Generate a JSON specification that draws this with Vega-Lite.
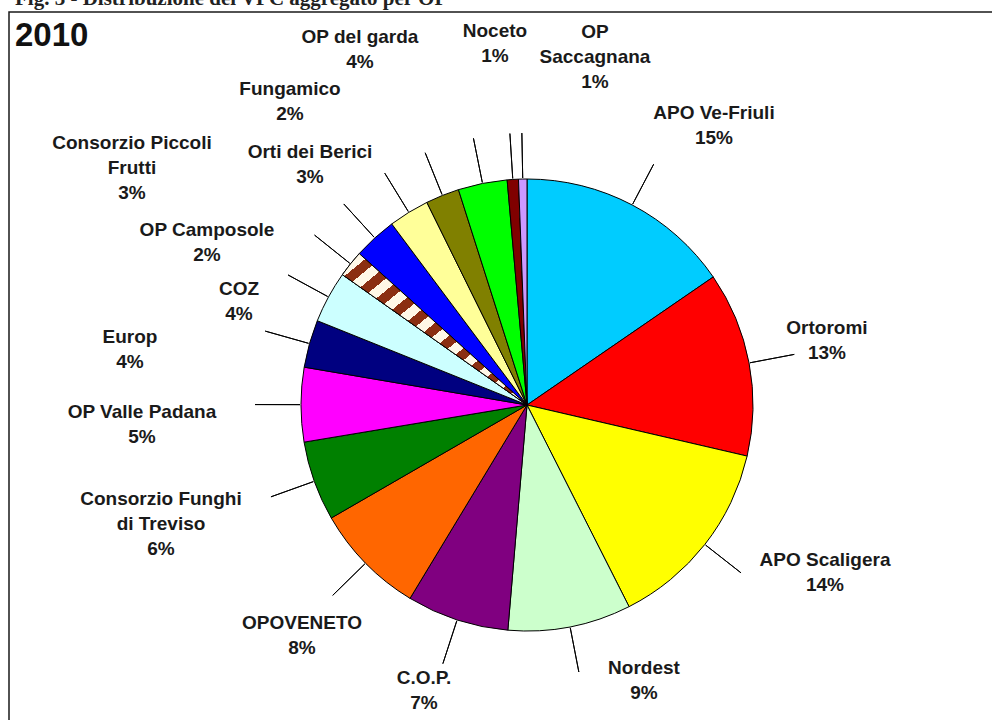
{
  "$schema": "https://vega.github.io/schema/vega-lite/v6.json",
  "width": 1036,
  "height": 786,
  "autosize": {"type": "none"},
  "padding": {"left": 9, "top": 12, "right": -53, "bottom": -78},
  "background": "white",
  "title": {
    "text": "Fig. 3 - Distribuzione del VPC aggregato per OP",
    "subtitle": "2010",
    "anchor": "start",
    "frame": "group",
    "orient": "top",
    "offset": -42,
    "dx": 6,
    "font": "Liberation Serif",
    "fontSize": 21,
    "fontWeight": "bold",
    "color": "#222222",
    "subtitleFont": "Liberation Sans",
    "subtitleFontSize": 33,
    "subtitleFontWeight": "bold",
    "subtitleColor": "#111111",
    "subtitlePadding": 11
  },
  "config": {
    "view": {"stroke": null},
    "text": {"font": "Liberation Sans", "fontSize": 19, "fontWeight": "bold", "lineHeight": 25, "lineBreak": "\n", "align": "center", "baseline": "middle", "color": "#1a1a1a"}
  },
  "data": {
    "values": [
      {"name": "APO Ve-Friuli", "value": 15.4, "order": 1, "label": "APO Ve-Friuli\n15%"},
      {"name": "Ortoromi", "value": 13.2, "order": 2, "label": "Ortoromi\n13%"},
      {"name": "APO Scaligera", "value": 13.9, "order": 3, "label": "APO Scaligera\n14%"},
      {"name": "Nordest", "value": 8.8, "order": 4, "label": "Nordest\n9%"},
      {"name": "C.O.P.", "value": 7.3, "order": 5, "label": "C.O.P.\n7%"},
      {"name": "OPOVENETO", "value": 8.0, "order": 6, "label": "OPOVENETO\n8%"},
      {"name": "Consorzio Funghi di Treviso", "value": 5.7, "order": 7, "label": "Consorzio Funghi\ndi Treviso\n6%"},
      {"name": "OP Valle Padana", "value": 5.3, "order": 8, "label": "OP Valle Padana\n5%"},
      {"name": "Europ", "value": 3.4, "order": 9, "label": "Europ\n4%"},
      {"name": "COZ", "value": 3.7, "order": 10, "label": "COZ\n4%"},
      {"name": "OP Camposole", "value": 1.9, "order": 11, "label": "OP Camposole\n2%"},
      {"name": "Consorzio Piccoli Frutti", "value": 3.1, "order": 12, "label": "Consorzio Piccoli\nFrutti\n3%"},
      {"name": "Orti dei Berici", "value": 2.9, "order": 13, "label": "Orti dei Berici\n3%"},
      {"name": "Fungamico", "value": 2.4, "order": 14, "label": "Fungamico\n2%"},
      {"name": "OP del garda", "value": 3.5, "order": 15, "label": "OP del garda\n4%"},
      {"name": "Noceto", "value": 0.8, "order": 16, "label": "Noceto\n1%"},
      {"name": "OP Saccagnana", "value": 0.6, "order": 17, "label": "OP\nSaccagnana\n1%"}
    ]
  },
  "layer": [
    {
      "data": {"values": [{}]},
      "mark": {"type": "rect", "fill": "transparent", "stroke": "#1a1a1a", "strokeWidth": 1.5},
      "encoding": {}
    },
    {
      "encoding": {
        "theta": {"field": "value", "type": "quantitative", "stack": true},
        "order": {"field": "order", "type": "quantitative"}
      },
      "layer": [
        {
          "mark": {"type": "arc", "radius": 226, "stroke": "#000000", "strokeWidth": 1},
          "encoding": {
            "color": {
              "field": "name", "type": "nominal", "legend": null,
              "scale": {
                "domain": ["APO Ve-Friuli", "Ortoromi", "APO Scaligera", "Nordest", "C.O.P.", "OPOVENETO", "Consorzio Funghi di Treviso", "OP Valle Padana", "Europ", "COZ", "OP Camposole", "Consorzio Piccoli Frutti", "Orti dei Berici", "Fungamico", "OP del garda", "Noceto", "OP Saccagnana"],
                "range": ["#00CCFF", "#FF0000", "#FFFF00", "#CCFFCC", "#800080", "#FF6600", "#008000", "#FF00FF", "#000080", "#CCFFFF", "#B06A4A", "#0000FF", "#FFFF99", "#808000", "#00FF00", "#800000", "#CC99FF"]
              }
            }
          }
        },
        {
          "mark": {
            "type": "arc", "radius": 226, "stroke": "#000000", "strokeWidth": 1,
            "fill": {
              "gradient": "linear", "x1": 1, "y1": 1, "x2": 0, "y2": 0,
              "stops": [
                {"offset": 0, "color": "#8B2F12"}, {"offset": 0.04, "color": "#8B2F12"}, {"offset": 0.04, "color": "#FFF8E7"}, {"offset": 0.08, "color": "#FFF8E7"},
                {"offset": 0.08, "color": "#8B2F12"}, {"offset": 0.12, "color": "#8B2F12"}, {"offset": 0.12, "color": "#FFF8E7"}, {"offset": 0.16, "color": "#FFF8E7"},
                {"offset": 0.16, "color": "#8B2F12"}, {"offset": 0.2, "color": "#8B2F12"}, {"offset": 0.2, "color": "#FFF8E7"}, {"offset": 0.24, "color": "#FFF8E7"},
                {"offset": 0.24, "color": "#8B2F12"}, {"offset": 0.28, "color": "#8B2F12"}, {"offset": 0.28, "color": "#FFF8E7"}, {"offset": 0.32, "color": "#FFF8E7"},
                {"offset": 0.32, "color": "#8B2F12"}, {"offset": 0.36, "color": "#8B2F12"}, {"offset": 0.36, "color": "#FFF8E7"}, {"offset": 0.4, "color": "#FFF8E7"},
                {"offset": 0.4, "color": "#8B2F12"}, {"offset": 0.44, "color": "#8B2F12"}, {"offset": 0.44, "color": "#FFF8E7"}, {"offset": 0.48, "color": "#FFF8E7"},
                {"offset": 0.48, "color": "#8B2F12"}, {"offset": 0.52, "color": "#8B2F12"}, {"offset": 0.52, "color": "#FFF8E7"}, {"offset": 0.56, "color": "#FFF8E7"},
                {"offset": 0.56, "color": "#8B2F12"}, {"offset": 0.6, "color": "#8B2F12"}, {"offset": 0.6, "color": "#FFF8E7"}, {"offset": 0.64, "color": "#FFF8E7"},
                {"offset": 0.64, "color": "#8B2F12"}, {"offset": 0.68, "color": "#8B2F12"}, {"offset": 0.68, "color": "#FFF8E7"}, {"offset": 0.72, "color": "#FFF8E7"},
                {"offset": 0.72, "color": "#8B2F12"}, {"offset": 0.76, "color": "#8B2F12"}, {"offset": 0.76, "color": "#FFF8E7"}, {"offset": 0.8, "color": "#FFF8E7"},
                {"offset": 0.8, "color": "#8B2F12"}, {"offset": 0.84, "color": "#8B2F12"}, {"offset": 0.84, "color": "#FFF8E7"}, {"offset": 0.88, "color": "#FFF8E7"},
                {"offset": 0.88, "color": "#8B2F12"}, {"offset": 0.92, "color": "#8B2F12"}, {"offset": 0.92, "color": "#FFF8E7"}, {"offset": 0.96, "color": "#FFF8E7"},
                {"offset": 0.96, "color": "#8B2F12"}, {"offset": 1, "color": "#8B2F12"}
              ]
            }
          },
          "encoding": {
            "opacity": {"condition": {"test": "datum.name === 'OP Camposole'", "value": 1}, "value": 0}
          }
        },
        {
          "mark": {"type": "arc", "radius": 272, "radius2": 227, "padAngle": 1.6, "fillOpacity": 0, "stroke": "#000000", "strokeWidth": 1}
        },
        {"mark": {"type": "text", "clip": true, "radius": 346.7, "thetaOffset": 0.0853}, "encoding": {"text": {"condition": {"test": "datum.name === 'APO Ve-Friuli'", "field": "label", "type": "nominal"}, "value": ""}}},
        {"mark": {"type": "text", "clip": true, "radius": 309.7, "thetaOffset": -0.0641}, "encoding": {"text": {"condition": {"test": "datum.name === 'Ortoromi'", "field": "label", "type": "nominal"}, "value": ""}}},
        {"mark": {"type": "text", "clip": true, "radius": 335.9, "thetaOffset": -0.1855}, "encoding": {"text": {"condition": {"test": "datum.name === 'APO Scaligera'", "field": "label", "type": "nominal"}, "value": ""}}},
        {"mark": {"type": "text", "clip": true, "radius": 287.8, "thetaOffset": -0.2267}, "encoding": {"text": {"condition": {"test": "datum.name === 'Nordest'", "field": "label", "type": "nominal"}, "value": ""}}},
        {"mark": {"type": "text", "clip": true, "radius": 291.8, "thetaOffset": 0.0463}, "encoding": {"text": {"condition": {"test": "datum.name === 'C.O.P.'", "field": "label", "type": "nominal"}, "value": ""}}},
        {"mark": {"type": "text", "clip": true, "radius": 313.3, "thetaOffset": 0.0056}, "encoding": {"text": {"condition": {"test": "datum.name === 'OPOVENETO'", "field": "label", "type": "nominal"}, "value": ""}}},
        {"mark": {"type": "text", "clip": true, "radius": 377.9, "thetaOffset": 0.093}, "encoding": {"text": {"condition": {"test": "datum.name === 'Consorzio Funghi di Treviso'", "field": "label", "type": "nominal"}, "value": ""}}},
        {"mark": {"type": "text", "clip": true, "radius": 385.1, "thetaOffset": -0.0197}, "encoding": {"text": {"condition": {"test": "datum.name === 'OP Valle Padana'", "field": "label", "type": "nominal"}, "value": ""}}},
        {"mark": {"type": "text", "clip": true, "radius": 402.8, "thetaOffset": -0.1056}, "encoding": {"text": {"condition": {"test": "datum.name === 'Europ'", "field": "label", "type": "nominal"}, "value": ""}}},
        {"mark": {"type": "text", "clip": true, "radius": 310.5, "thetaOffset": -0.1155}, "encoding": {"text": {"condition": {"test": "datum.name === 'COZ'", "field": "label", "type": "nominal"}, "value": ""}}},
        {"mark": {"type": "text", "clip": true, "radius": 364.7, "thetaOffset": -0.1742}, "encoding": {"text": {"condition": {"test": "datum.name === 'OP Camposole'", "field": "label", "type": "nominal"}, "value": ""}}},
        {"mark": {"type": "text", "clip": true, "radius": 474.0, "thetaOffset": -0.2461}, "encoding": {"text": {"condition": {"test": "datum.name === 'Consorzio Piccoli Frutti'", "field": "label", "type": "nominal"}, "value": ""}}},
        {"mark": {"type": "text", "clip": true, "radius": 333.3, "thetaOffset": -0.1587}, "encoding": {"text": {"condition": {"test": "datum.name === 'Orti dei Berici'", "field": "label", "type": "nominal"}, "value": ""}}},
        {"mark": {"type": "text", "clip": true, "radius": 395.0, "thetaOffset": -0.2599}, "encoding": {"text": {"condition": {"test": "datum.name === 'Fungamico'", "field": "label", "type": "nominal"}, "value": ""}}},
        {"mark": {"type": "text", "clip": true, "radius": 404.1, "thetaOffset": -0.2279}, "encoding": {"text": {"condition": {"test": "datum.name === 'OP del garda'", "field": "label", "type": "nominal"}, "value": ""}}},
        {"mark": {"type": "text", "clip": true, "radius": 375.4, "thetaOffset": -0.0225}, "encoding": {"text": {"condition": {"test": "datum.name === 'Noceto'", "field": "label", "type": "nominal"}, "value": ""}}},
        {"mark": {"type": "text", "clip": true, "radius": 379.1, "thetaOffset": 0.1991}, "encoding": {"text": {"condition": {"test": "datum.name === 'OP Saccagnana'", "field": "label", "type": "nominal"}, "value": ""}}}
      ]
    }
  ]
}
